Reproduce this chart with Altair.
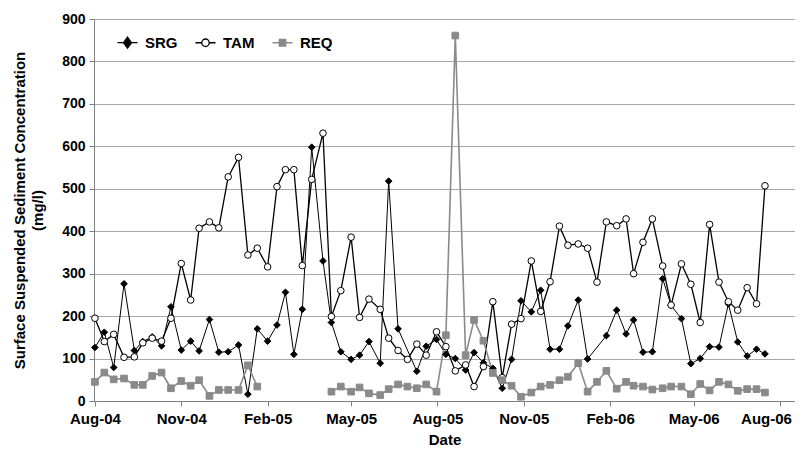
import altair as alt
import pandas as pd

dates = [
    "2004-08-01", "2004-08-11", "2004-08-21", "2004-09-01", "2004-09-12", "2004-09-21",
    "2004-10-01", "2004-10-11", "2004-10-21", "2004-11-01", "2004-11-11", "2004-11-20",
    "2004-12-01", "2004-12-11", "2004-12-21", "2005-01-01", "2005-01-11", "2005-01-21",
    "2005-02-01", "2005-02-11", "2005-02-20", "2005-03-01", "2005-03-10", "2005-03-20",
    "2005-04-01", "2005-04-10", "2005-04-20", "2005-05-01", "2005-05-10", "2005-05-20",
    "2005-06-01", "2005-06-10", "2005-06-20", "2005-06-30", "2005-07-10", "2005-07-20",
    "2005-07-31", "2005-08-10", "2005-08-20", "2005-08-31", "2005-09-09", "2005-09-19",
    "2005-09-29", "2005-10-09", "2005-10-19", "2005-10-29", "2005-11-09", "2005-11-19",
    "2005-11-29", "2005-12-09", "2005-12-18", "2005-12-29", "2006-01-08", "2006-01-18",
    "2006-01-28", "2006-02-08", "2006-02-18", "2006-02-26", "2006-03-08", "2006-03-18",
    "2006-03-29", "2006-04-07", "2006-04-18", "2006-04-28", "2006-05-08", "2006-05-18",
    "2006-05-28", "2006-06-07", "2006-06-17", "2006-06-27", "2006-07-07", "2006-07-16",
]

srg = [126, 162, 79, 276, 119, 140, 151, 130, 222, 120, 141, 118,
       192, 115, 116, 132, 16, 170, 141, 179, 256, 110, 216, 598,
       330, 185, 116, 98, 108, 140, 89, 518, 170, None, 70, 129,
       145, 110, 100, 73, 114, 90, 77, 30, 98, 236, 210, 261,
       122, 122, 177, 238, 99, None, 154, 214, 158, 191, 115, 116,
       288, 225, 194, 88, 100, 128, 127, 229, 139, 106, 122, 111]

tam = [195, 140, 157, 103, 104, 137, 148, 141, 195, 324, 238, 407,
       422, 408, 528, 574, 344, 360, 316, 505, 545, 545, 319, 522,
       631, 199, 260, 386, 197, 240, 216, 148, 119, 98, 134, 108,
       163, 128, 71, 85, 34, 81, 234, 55, 181, 194, 330, 211,
       281, 412, 367, 370, 360, 280, 422, 413, 429, 300, 374, 429,
       318, 226, 323, 275, 185, 416, 280, 234, 214, 267, 229, 507]

req = [45, 67, 51, 53, 38, 38, 59, 67, 30, 47, 36, 49,
       12, 26, 26, 26, 84, 34, None, None, None, None, None, None,
       None, 22, 34, 22, 32, 18, 14, 28, 39, 34, 30, 39,
       22, 155, 861, 108, 191, 142, 66, 49, 36, 10, 20, 34,
       38, 49, 57, 89, 22, 45, 71, 29, 45, 36, 34, 27,
       30, 34, 34, 16, 40, 25, 45, 39, 24, 28, 28, 20]

series = ["SRG", "TAM", "REQ"]
fills = ["#000000", "#ffffff", "#8a8a8a"]
strokes = ["#000000", "#000000", "#8a8a8a"]
shapes = ["diamond", "circle", "square"]
legend_shapes = [
    "M-2.0,0H2.0M0,-1.1L0.8,0L0,1.1L-0.8,0Z",
    "M-2.0,0H-0.75M0.75,0H2.0M0.75,0A0.75,0.75,0,1,1,-0.75,0A0.75,0.75,0,1,1,0.75,0Z",
    "M-2.0,0H2.0M-0.65,-0.65H0.65V0.65H-0.65Z",
]
line_widths = [1.0, 1.6, 1.6]
y_ticks = [0, 100, 200, 300, 400, 500, 600, 700, 800, 900]

rows = []
for name, vals in zip(series, [srg, tam, req]):
    seg = 0
    for d, v in zip(dates, vals):
        if v is None:
            if name == "REQ":
                seg += 1
            continue
        rows.append({"date": d, "value": v, "series": name, "seg": f"{name}{seg}"})
df = pd.DataFrame(rows)

FONT = "Liberation Sans"

x_ticks = [alt.DateTime(year=y, month=m, date=1, utc=True)
           for y, m in [(2004, 8), (2004, 11), (2005, 2), (2005, 5), (2005, 8),
                        (2005, 11), (2006, 2), (2006, 5), (2006, 8)]]

x_enc = alt.X(
    "date:T",
    scale=alt.Scale(type="utc", domain=[alt.DateTime(year=2004, month=7, date=31, utc=True),
                                        alt.DateTime(year=2006, month=8, date=17, utc=True)]),
    axis=alt.Axis(values=x_ticks, format="%b-%y", title="Date", grid=False,
                  labelFlush=False, labelFontSize=15,
                  labelOffset={"condition": {"test": "datum.value > 1150000000000", "value": -14},
                               "value": 0},
                  tickSize=5, labelPadding=5, titlePadding=6,
                  domainColor="#808080", tickColor="#808080"),
)
y_enc = alt.Y(
    "value:Q",
    scale=alt.Scale(domain=[0, 900], nice=False),
    axis=alt.Axis(values=y_ticks, title=["Surface Suspended Sediment Concentration", "(mg/l)"],
                  grid=True, gridColor="#a8a8a8", gridWidth=1, tickSize=5, labelPadding=4,
                  titlePadding=16, domainColor="#808080", tickColor="#808080"),
)

legend = alt.Legend(
    title=None, orient="none", direction="horizontal", legendX=26, legendY=16,
    symbolSize=100, labelOffset=10, columnPadding=14, symbolStrokeWidth=1.3,
    symbolOpacity=1,
    labelFontSize=15, labelFont=FONT, labelFontWeight="bold", labelColor="#000000",
)

lines = alt.Chart(df).mark_line().encode(
    x=x_enc, y=y_enc,
    stroke=alt.Stroke("series:N", scale=alt.Scale(domain=series, range=strokes), legend=None),
    strokeWidth=alt.StrokeWidth("series:N", scale=alt.Scale(domain=series, range=line_widths), legend=None),
    detail="seg:N",
)

points = alt.Chart(df).mark_point(opacity=1, strokeWidth=1, size=44).encode(
    x=x_enc, y=y_enc,
    shape=alt.Shape("series:N", scale=alt.Scale(domain=series, range=shapes), legend=None),
    fill=alt.Fill("series:N", scale=alt.Scale(domain=series, range=fills), legend=None),
    stroke=alt.Stroke("series:N", scale=alt.Scale(domain=series, range=strokes), legend=None),
)

legend_layer = alt.Chart(df).transform_filter("datum.value < 0").mark_point(
    opacity=1, strokeWidth=1.3
).encode(
    x=x_enc, y=y_enc,
    shape=alt.Shape("series:N", scale=alt.Scale(domain=series, range=legend_shapes), legend=legend),
    fill=alt.Fill("series:N", scale=alt.Scale(domain=series, range=fills), legend=legend),
    stroke=alt.Stroke("series:N", scale=alt.Scale(domain=series, range=strokes), legend=legend),
)

chart = alt.layer(lines, points, legend_layer).resolve_scale(
    shape="independent", fill="independent", stroke="independent"
).properties(
    width=701, height=382,
    autosize=alt.AutoSizeParams(type="none"),
    padding={"left": 86, "top": 11, "right": 0, "bottom": 51},
    background="#ffffff",
).configure_view(stroke="#808080", strokeWidth=1).configure_axis(
    labelFont=FONT, labelFontSize=14, labelFontWeight="bold", labelColor="#000000",
    titleFont=FONT, titleFontSize=15, titleFontWeight="bold", titleColor="#000000",
    titleLineHeight=18,
)

chart.save("out.html", embed_options={"renderer": "svg", "actions": False})
